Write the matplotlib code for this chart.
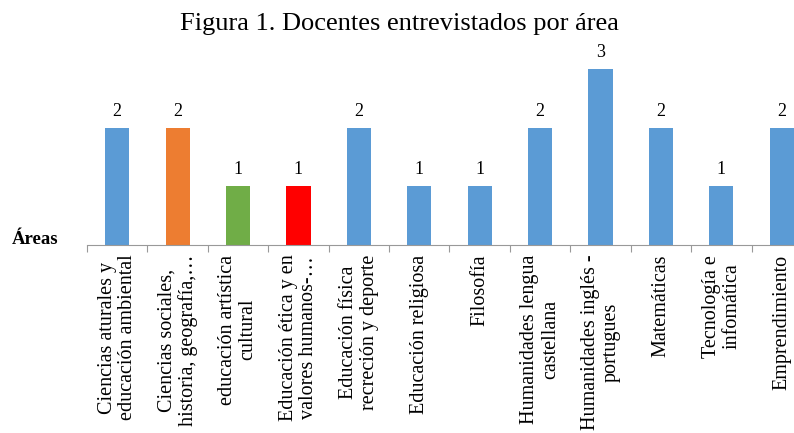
import matplotlib.pyplot as plt

# --- Data ---
areas = [
    "Ciencias aturales y\neducación ambiental",
    "Ciencias sociales,\nhistoria, geografía,…",
    "educación artística\ncultural",
    "Educación ética y en\nvalores humanos-…",
    "Educación física\nrecreción y deporte",
    "Educación religiosa",
    "Filosofía",
    "Humanidades lengua\ncastellana",
    "Humanidades inglés -\nportugues",
    "Matemáticas",
    "Tecnología e\ninfomática",
    "Emprendimiento",
]
docentes = [2, 2, 1, 1, 2, 1, 1, 2, 3, 2, 1, 2]
colores = ["#5B9BD5", "#ED7D31", "#70AD47", "#FF0000"] + ["#5B9BD5"] * 8

plt.rcParams['font.family'] = ['Liberation Serif', 'DejaVu Serif']

fig = plt.figure(figsize=(7.94, 4.33), dpi=100)
# axes runs past the right edge like the original (last bar is cut off)
ax = fig.add_axes([87 / 794, 1 - 245 / 433, 725 / 794, (245 - 46) / 433])

x = range(len(areas))
bars = ax.bar(x, docentes, width=0.4, color=colores)
ax.bar_label(bars, padding=6, fontsize=13)

ax.set_xlim(-0.5, len(areas) - 0.5)
ax.set_ylim(0, 3.4)
ax.set_yticks([])
for s in ['left', 'right', 'top']:
    ax.spines[s].set_visible(False)
ax.spines['bottom'].set_color('#999999')

# tick marks between categories, labels at centres
ax.set_xticks([i - 0.5 for i in range(len(areas) + 1)])
ax.set_xticklabels([])
ax.tick_params(axis='x', length=5, color='#999999')
for i, lab in enumerate(areas):
    ax.annotate(lab, (i, 0), xytext=(0, -7), textcoords='offset points',
                rotation=90, ha='center', va='top', multialignment='center',
                fontsize=14.5, linespacing=1.1, annotation_clip=False)

fig.text(35 / 794, 1 - 239 / 433, "Áreas", ha='center', va='center',
         fontsize=13.5, fontweight='bold')
fig.text(399 / 794, 1 - 24 / 433, "Figura 1. Docentes entrevistados por área",
         ha='center', va='center', fontsize=19)

fig.savefig('out.png', dpi=100)
